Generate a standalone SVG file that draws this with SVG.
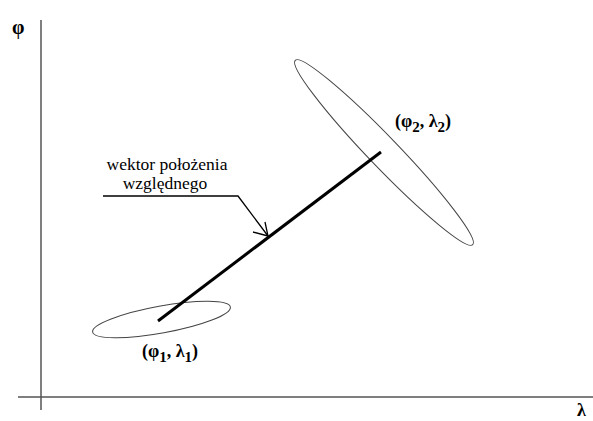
<svg xmlns="http://www.w3.org/2000/svg" width="593" height="421" viewBox="0 0 593 421">
<style>
.axis{stroke:#555;stroke-width:1.5;fill:none}
.ell{stroke:#444;stroke-width:1;fill:none}
.vec{stroke:#000;stroke-width:3;fill:none;stroke-linecap:butt}
.lead{stroke:#000;stroke-width:1.3;fill:none}
text{font-family:'Liberation Serif','Times New Roman',serif;fill:#000}
.lbl{font-size:18px;font-weight:bold}
.sub{font-size:15px}
</style>
<rect width="593" height="421" fill="#fff"/>
<g id="axes">
<line class="axis" x1="41" y1="20" x2="41" y2="410"/>
<line class="axis" x1="18" y1="397" x2="593" y2="397"/>
<text x="12" y="34" font-size="20" font-weight="bold">φ</text>
<text x="577" y="416" font-size="18" font-weight="bold">λ</text>
</g>
<g id="ellipse1">
<ellipse class="ell" cx="161.5" cy="319.5" rx="70" ry="13.5" transform="rotate(-10.3 161.5 319.5)"/>
<text class="lbl" x="142" y="357">(φ<tspan class="sub" dy="5">1</tspan><tspan dy="-5">, λ</tspan><tspan class="sub" dy="5">1</tspan><tspan dy="-5">)</tspan></text>
</g>
<g id="ellipse2">
<ellipse class="ell" cx="384" cy="152.5" rx="128" ry="15" transform="rotate(46.1 384 152.5)"/>
<text class="lbl" x="395" y="127">(φ<tspan class="sub" dy="5">2</tspan><tspan dy="-5">, λ</tspan><tspan class="sub" dy="5">2</tspan><tspan dy="-5">)</tspan></text>
</g>
<g id="label">
<text font-size="17.5" text-anchor="middle" x="167" y="170">wektor położenia</text>
<text font-size="17.5" text-anchor="middle" x="165" y="189">względnego</text>
</g>
<g id="connectors">
<line class="vec" x1="158" y1="321" x2="381" y2="152"/>
<polyline class="lead" points="103,196 238,196 268,236"/>
<polyline class="lead" points="253,232 268,236 265,222"/>
</g>
</svg>
